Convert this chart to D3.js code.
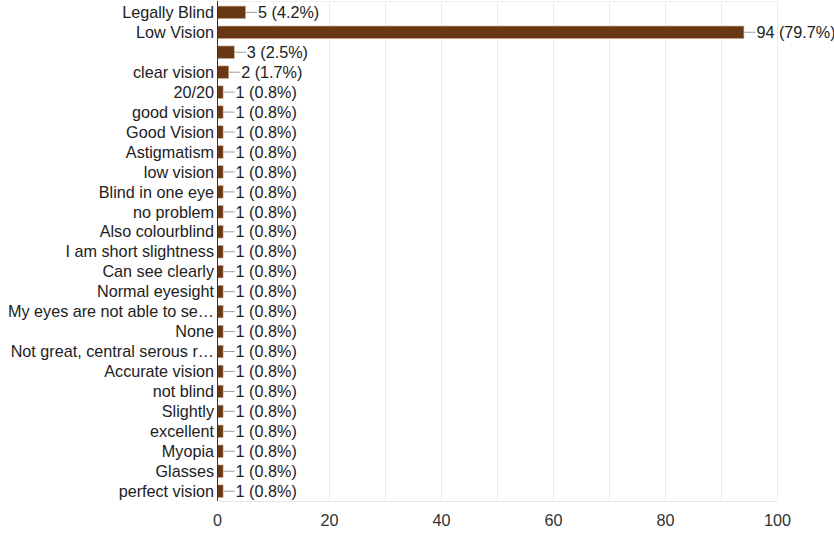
<!DOCTYPE html>
<html><head><meta charset="utf-8">
<script src="https://cdn.jsdelivr.net/npm/d3@7"></script>
<style>body{margin:0;background:#fff;overflow:hidden;} svg{display:block;font-family:"Liberation Sans",Arial,sans-serif;}</style>
</head><body>
<svg id="c" width="834" height="533"></svg>
<script>
const categories = ["Legally Blind","Low Vision","","clear vision","20/20","good vision","Good Vision","Astigmatism","low vision","Blind in one eye","no problem","Also colourblind","I am short slightness","Can see clearly","Normal eyesight","My eyes are not able to se\u2026","None","Not great, central serous r\u2026","Accurate vision","not blind","Slightly","excellent","Myopia","Glasses","perfect vision"];
const counts = [5,94,3,2,1,1,1,1,1,1,1,1,1,1,1,1,1,1,1,1,1,1,1,1,1];
const percents = ["4.2%","79.7%","2.5%","1.7%","0.8%","0.8%","0.8%","0.8%","0.8%","0.8%","0.8%","0.8%","0.8%","0.8%","0.8%","0.8%","0.8%","0.8%","0.8%","0.8%","0.8%","0.8%","0.8%","0.8%","0.8%"];
const xTicks = [0,20,40,60,80,100];
const gridVals = [10,20,30,40,50,60,70,80,90,100];

const svg = d3.select("#c");
const L = 217, R = 777, T = 1, B = 501;
const x = d3.scaleLinear().domain([0,100]).range([L,R]);
const y = d3.scaleBand().domain(d3.range(categories.length)).range([2.3,501.2]).paddingInner(0.375).paddingOuter(0.19);

// grid
svg.append("g").selectAll("line").data(gridVals).join("line")
  .attr("x1",d=>x(d)).attr("x2",d=>x(d)).attr("y1",T).attr("y2",B)
  .attr("stroke","#ebebeb").attr("stroke-width",1).attr("shape-rendering","crispEdges");
svg.append("line").attr("x1",L).attr("x2",R).attr("y1",B).attr("y2",B).attr("stroke","#e6e6e6").attr("shape-rendering","crispEdges");
svg.append("line").attr("x1",L).attr("x2",R).attr("y1",T).attr("y2",T).attr("stroke","#f0f0f0").attr("shape-rendering","crispEdges");

// bars
svg.append("g").selectAll("rect").data(counts).join("rect")
  .attr("x",x(0)+0.5).attr("y",(d,i)=>y(i))
  .attr("width",d=>x(d)-x(0)).attr("height",y.bandwidth())
  .attr("fill","#673813").attr("stroke","#c9a88c").attr("stroke-width",0.6);

// leader lines and labels
const lab = svg.append("g");
counts.forEach((d,i)=>{
  const cy = y(i)+y.bandwidth()/2;
  lab.append("line").attr("x1",x(d)+1).attr("x2",x(d)+12).attr("y1",cy).attr("y2",cy)
    .attr("stroke","#9e9e9e").attr("stroke-width",1);
  lab.append("text").attr("x",x(d)+13).attr("y",cy).attr("dy","0.35em")
    .attr("font-size",16.2).attr("fill","#222").text(d+" ("+percents[i]+")");
});

// category labels
svg.append("g").selectAll("text").data(categories).join("text")
  .attr("x",L-3).attr("y",(d,i)=>y(i)+y.bandwidth()/2).attr("dy","0.35em")
  .attr("text-anchor","end").attr("font-size",16.2).attr("fill","#222").text(d=>d);

// y axis line
svg.append("line").attr("x1",L+0.5).attr("x2",L+0.5).attr("y1",T).attr("y2",B).attr("stroke","#333").attr("stroke-width",1);

// x axis
const xa = svg.append("g").attr("transform",`translate(0,${B})`)
  .call(d3.axisBottom(x).tickValues(xTicks).tickSize(0).tickPadding(13).tickFormat(d3.format("d")));
xa.select(".domain").remove();
xa.selectAll("text").attr("font-size",16.2).attr("fill","#333").attr("font-family","Liberation Sans, Arial, sans-serif");
</script>
</body></html>
